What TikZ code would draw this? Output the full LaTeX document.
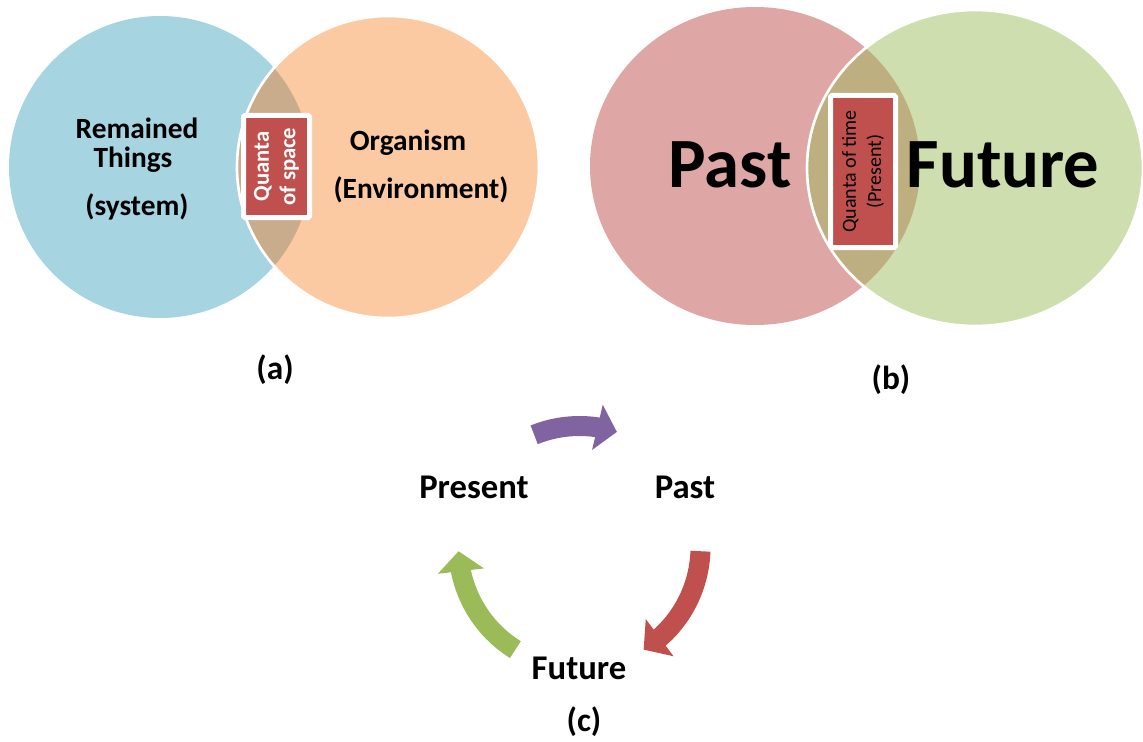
\documentclass[tikz,border=0pt]{standalone}
\usepackage{fontspec}
\setmainfont{Carlito}
\usetikzlibrary{arrows.meta,bending,calc}
\definecolor{cblue}{HTML}{A6D4E1}
\definecolor{corange}{HTML}{FBCAA2}
\definecolor{clensa}{HTML}{C8AC8C}
\definecolor{cpink}{HTML}{DFA6A6}
\definecolor{cgreenc}{HTML}{CEDEAE}
\definecolor{clensb}{HTML}{BEAF80}
\definecolor{cred}{HTML}{C0504D}
\definecolor{cpurple}{HTML}{8064A2}
\definecolor{cgreen}{HTML}{9BBB59}
\tikzset{
  qbox/.style={draw=white, line width=3.75pt, fill=cred, rounded corners=1pt, inner sep=0pt, align=center, rotate=90},
  midtxt/.style={font=\bfseries\fontsize{22}{26}\selectfont, inner sep=0pt},
  bigtxt/.style={font=\bfseries\fontsize{53}{60}\selectfont, inner sep=0pt},
  cyctxt/.style={font=\bfseries\fontsize{26}{30}\selectfont, inner sep=0pt},
  captxt/.style={font=\bfseries\fontsize{25}{30}\selectfont, inner sep=0pt},
  cyc/.style={line width=15pt, -{Triangle[width=34pt,length=15pt]}}
}
\begin{document}
\begin{tikzpicture}[x=0.75pt,y=0.75pt]
\useasboundingbox (0,0) rectangle (1143,-742);
% (a)
\fill[cblue] (160,-167) circle[radius=151];
\fill[corange] (388,-167) circle[radius=151];
\begin{scope}
  \clip (160,-167) circle[radius=151];
  \fill[clensa] (388,-167) circle[radius=151];
\end{scope}
\draw[white, line width=2pt] (388,-167) circle[radius=151];
\node[qbox, minimum width=76.5pt, minimum height=49.5pt, text=white,
      font=\bfseries\fontsize{17}{20}\selectfont] (qa) at (276.5,-166.5) {Quanta\\of space};
\node[midtxt] (rem) at (137,-128) {Remained};
\node[midtxt] (thi) at (133,-160) {Things};
\node[midtxt] (sys) at (137,-207) {(system)};
\node[midtxt] (org) at (408,-143) {Organism};
\node[midtxt] (env) at (421,-190) {(Environment)};
\node[captxt] (la) at (275,-370) {(a)};
% (b)
\fill[cpink] (755,-166) ellipse[x radius=165, y radius=159];
\fill[cgreenc] (975,-168) ellipse[x radius=168, y radius=158];
\begin{scope}
  \clip (755,-166) ellipse[x radius=165, y radius=159];
  \fill[clensb] (975,-168) ellipse[x radius=168, y radius=158];
\end{scope}
\draw[white, line width=2pt] (975,-168) ellipse[x radius=168, y radius=158];
\node[qbox, minimum width=114pt, minimum height=48.75pt, text=black,
      font=\fontsize{15}{19}\selectfont] (qb) at (863,-171.5) {Quanta of time\\(Present)};
\node[bigtxt] (past) at (730,-165) {Past};
\node[bigtxt] (fut) at (1003,-165) {Future};
\node[captxt] (lb) at (891,-380) {(b)};
% (c)
\coordinate (C) at (579.5,-547);
\draw[cyc, cpurple] ($(C)+(112:121)$) arc[start angle=112, end angle=72, radius=121];
\draw[cyc, cred] ($(C)+(-2:121)$) arc[start angle=-2, end angle=-58, radius=121];
\draw[cyc, cgreen] ($(C)+(238:121)$) arc[start angle=238, end angle=182, radius=121];
\node[cyctxt] (pres) at (474,-487) {Present};
\node[cyctxt] (pastc) at (685,-487) {Past};
\node[cyctxt] (futc) at (579,-668) {Future};
\node[captxt] (lc) at (584,-722) {(c)};
\end{tikzpicture}
\end{document}
